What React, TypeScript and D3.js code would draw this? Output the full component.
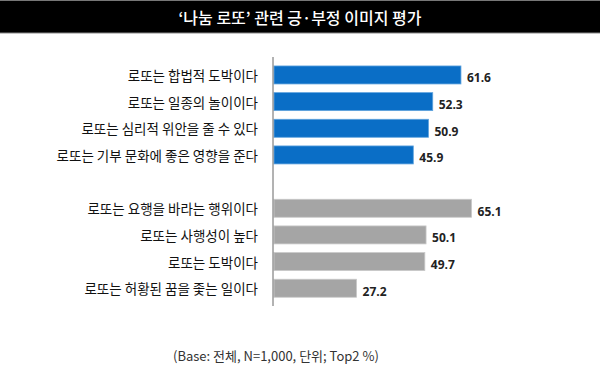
import * as d3 from "d3"
import React from "react"

const positiveLabels = [
  "로또는 합법적 도박이다",
  "로또는 일종의 놀이이다",
  "로또는 심리적 위안을 줄 수 있다",
  "로또는 기부 문화에 좋은 영향을 준다",
]
const positiveValues = [61.6, 52.3, 50.9, 45.9]
const negativeLabels = [
  "로또는 요행을 바라는 행위이다",
  "로또는 사행성이 높다",
  "로또는 도박이다",
  "로또는 허황된 꿈을 좇는 일이다",
]
const negativeValues = [65.1, 50.1, 49.7, 27.2]

const title = "‘나눔 로또’ 관련 긍·부정 이미지 평가"
const note = "(Base: 전체, N=1,000, 단위; Top2 %)"

const W = 600
const H = 370
const kr = "'Noto Sans CJK KR', 'Noto Sans', sans-serif"

export default function App() {
  // one empty slot between the two groups
  const rows = [
    ...positiveLabels.map((label, i) => ({ label, value: positiveValues[i], color: "#0A6EC6", edge: "#5FA3DE" })),
    null,
    ...negativeLabels.map((label, i) => ({ label, value: negativeValues[i], color: "#A5A5A5", edge: "#C9C9C9" })),
  ]
  const x0 = 273
  const xScale = d3.scaleLinear().domain([0, 100]).range([x0, x0 + 303.5])
  const yScale = d3
    .scaleBand<number>()
    .domain(d3.range(rows.length))
    .range([57.3, 305.9])
    .padding(0.325)

  return (
    <svg width={W} height={H} style={{ position: "absolute", left: 0, top: 0 }}>
      <rect width={W} height={H} fill="#fff" />
      <rect x={0} y={0} width={W} height={33} fill="#000" />
      <line x1={0} x2={W} y1={0.5} y2={0.5} stroke="#777" />
      <line x1={0} x2={W} y1={33} y2={33} stroke="#888" />
      <text
        x={W / 2}
        y={17}
        textAnchor="middle"
        dominantBaseline="central"
        fill="#fff"
        fontFamily={kr}
        fontSize={16}
        fontWeight={500}
      >
        {title}
      </text>

      {rows.map((d, i) => {
        if (!d) return null
        const y = yScale(i) as number
        const bh = yScale.bandwidth()
        return (
          <g key={d.label}>
            <rect
              x={x0 + 1}
              y={y}
              width={xScale(d.value) - x0}
              height={bh}
              fill={d.color}
              stroke={d.edge}
              strokeWidth={0.8}
            />
            <text
              x={258}
              y={y + bh / 2}
              textAnchor="end"
              dominantBaseline="central"
              fontFamily={kr}
              fontSize={13.5}
              fill="#111"
            >
              {d.label}
            </text>
            <text
              x={xScale(d.value) + 7}
              y={y + bh / 2 + 3}
              dominantBaseline="central"
              fontFamily="'Open Sans', 'DejaVu Sans', sans-serif"
              fontSize={12}
              fontWeight={700}
              fill="#222"
            >
              {d.value.toFixed(1)}
            </text>
          </g>
        )
      })}

      <line x1={x0} x2={x0} y1={57} y2={306} stroke="#666" strokeWidth={1} />

      <text
        x={173}
        y={355}
        dominantBaseline="central"
        fontFamily={kr}
        fontSize={13}
        fill="#333"
      >
        {note}
      </text>
    </svg>
  )
}
